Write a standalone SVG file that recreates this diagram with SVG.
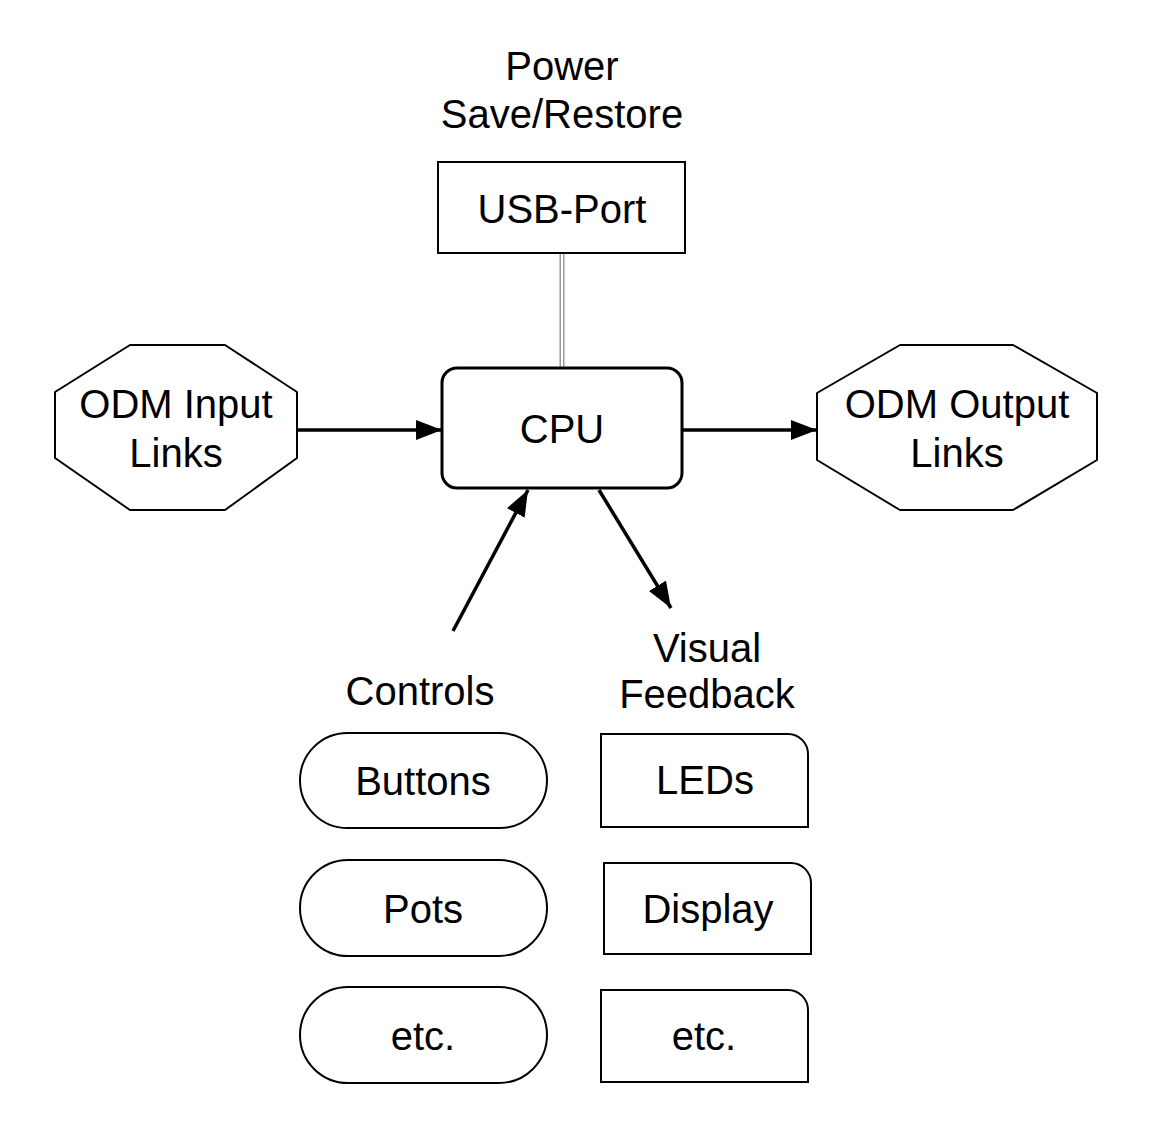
<svg xmlns="http://www.w3.org/2000/svg" width="1160" height="1140" viewBox="0 0 1160 1140">
<defs>
<style>
text{font-family:"Liberation Sans",Arial,sans-serif;font-size:40px;fill:#000;text-anchor:middle}
.thin{fill:#fff;stroke:#000;stroke-width:2}
.arrow{stroke:#000;stroke-width:3.5;fill:none}
</style>
<marker id="ah" markerUnits="userSpaceOnUse" markerWidth="30" markerHeight="22" refX="26" refY="10" orient="auto" viewBox="0 0 30 22">
<path d="M0,0 L26,10 L0,20 Z" fill="#000"/>
</marker>
</defs>
<rect width="1160" height="1140" fill="#fff"/>
<g id="labels">
<text x="562" y="80">Power</text>
<text x="562" y="128">Save/Restore</text>
<text x="420" y="705">Controls</text>
<text x="707" y="662">Visual</text>
<text x="707" y="708">Feedback</text>
</g>
<g id="connectors">
<line x1="562" y1="253" x2="562" y2="368" stroke="#999" stroke-width="5"/>
<line x1="562" y1="253" x2="562" y2="368" stroke="#fff" stroke-width="2"/>
<line class="arrow" x1="297" y1="430" x2="442" y2="430" marker-end="url(#ah)"/>
<line class="arrow" x1="682" y1="430" x2="817" y2="430" marker-end="url(#ah)"/>
<line class="arrow" x1="453" y1="631" x2="528" y2="490" marker-end="url(#ah)"/>
<line class="arrow" x1="599" y1="490" x2="671" y2="608" marker-end="url(#ah)"/>
</g>
<g id="usb">
<rect class="thin" x="438" y="162" width="247" height="91"/>
<text x="562" y="223">USB-Port</text>
</g>
<g id="cpu">
<rect x="442" y="368" width="240" height="120" rx="15" fill="#fff" stroke="#000" stroke-width="3"/>
<text x="562" y="443">CPU</text>
</g>
<g id="odm-input">
<polygon class="thin" stroke-linejoin="round" points="130,345 225,345 297,392 297,458 225,510 130,510 55,458 55,392"/>
<text x="176" y="418">ODM Input</text>
<text x="176" y="467">Links</text>
</g>
<g id="odm-output">
<polygon class="thin" stroke-linejoin="round" points="900,345 1013,345 1097,393 1097,460 1013,510 900,510 817,460 817,393"/>
<text x="957" y="418">ODM Output</text>
<text x="957" y="467">Links</text>
</g>
<g id="buttons">
<rect class="thin" x="300" y="733" width="247" height="95" rx="47.5"/>
<text x="423" y="795">Buttons</text>
</g>
<g id="pots">
<rect class="thin" x="300" y="860" width="247" height="96" rx="48"/>
<text x="423" y="923">Pots</text>
</g>
<g id="controls-etc">
<rect class="thin" x="300" y="987" width="247" height="96" rx="48"/>
<text x="423" y="1050">etc.</text>
</g>
<g id="leds">
<path class="thin" d="M601,734 H788 A20,20 0 0 1 808,754 V827 H601 Z"/>
<text x="705" y="794">LEDs</text>
</g>
<g id="display">
<path class="thin" d="M604,863 H791 A20,20 0 0 1 811,883 V954 H604 Z"/>
<text x="708" y="923">Display</text>
</g>
<g id="feedback-etc">
<path class="thin" d="M601,990 H788 A20,20 0 0 1 808,1010 V1082 H601 Z"/>
<text x="704" y="1050">etc.</text>
</g>
</svg>
